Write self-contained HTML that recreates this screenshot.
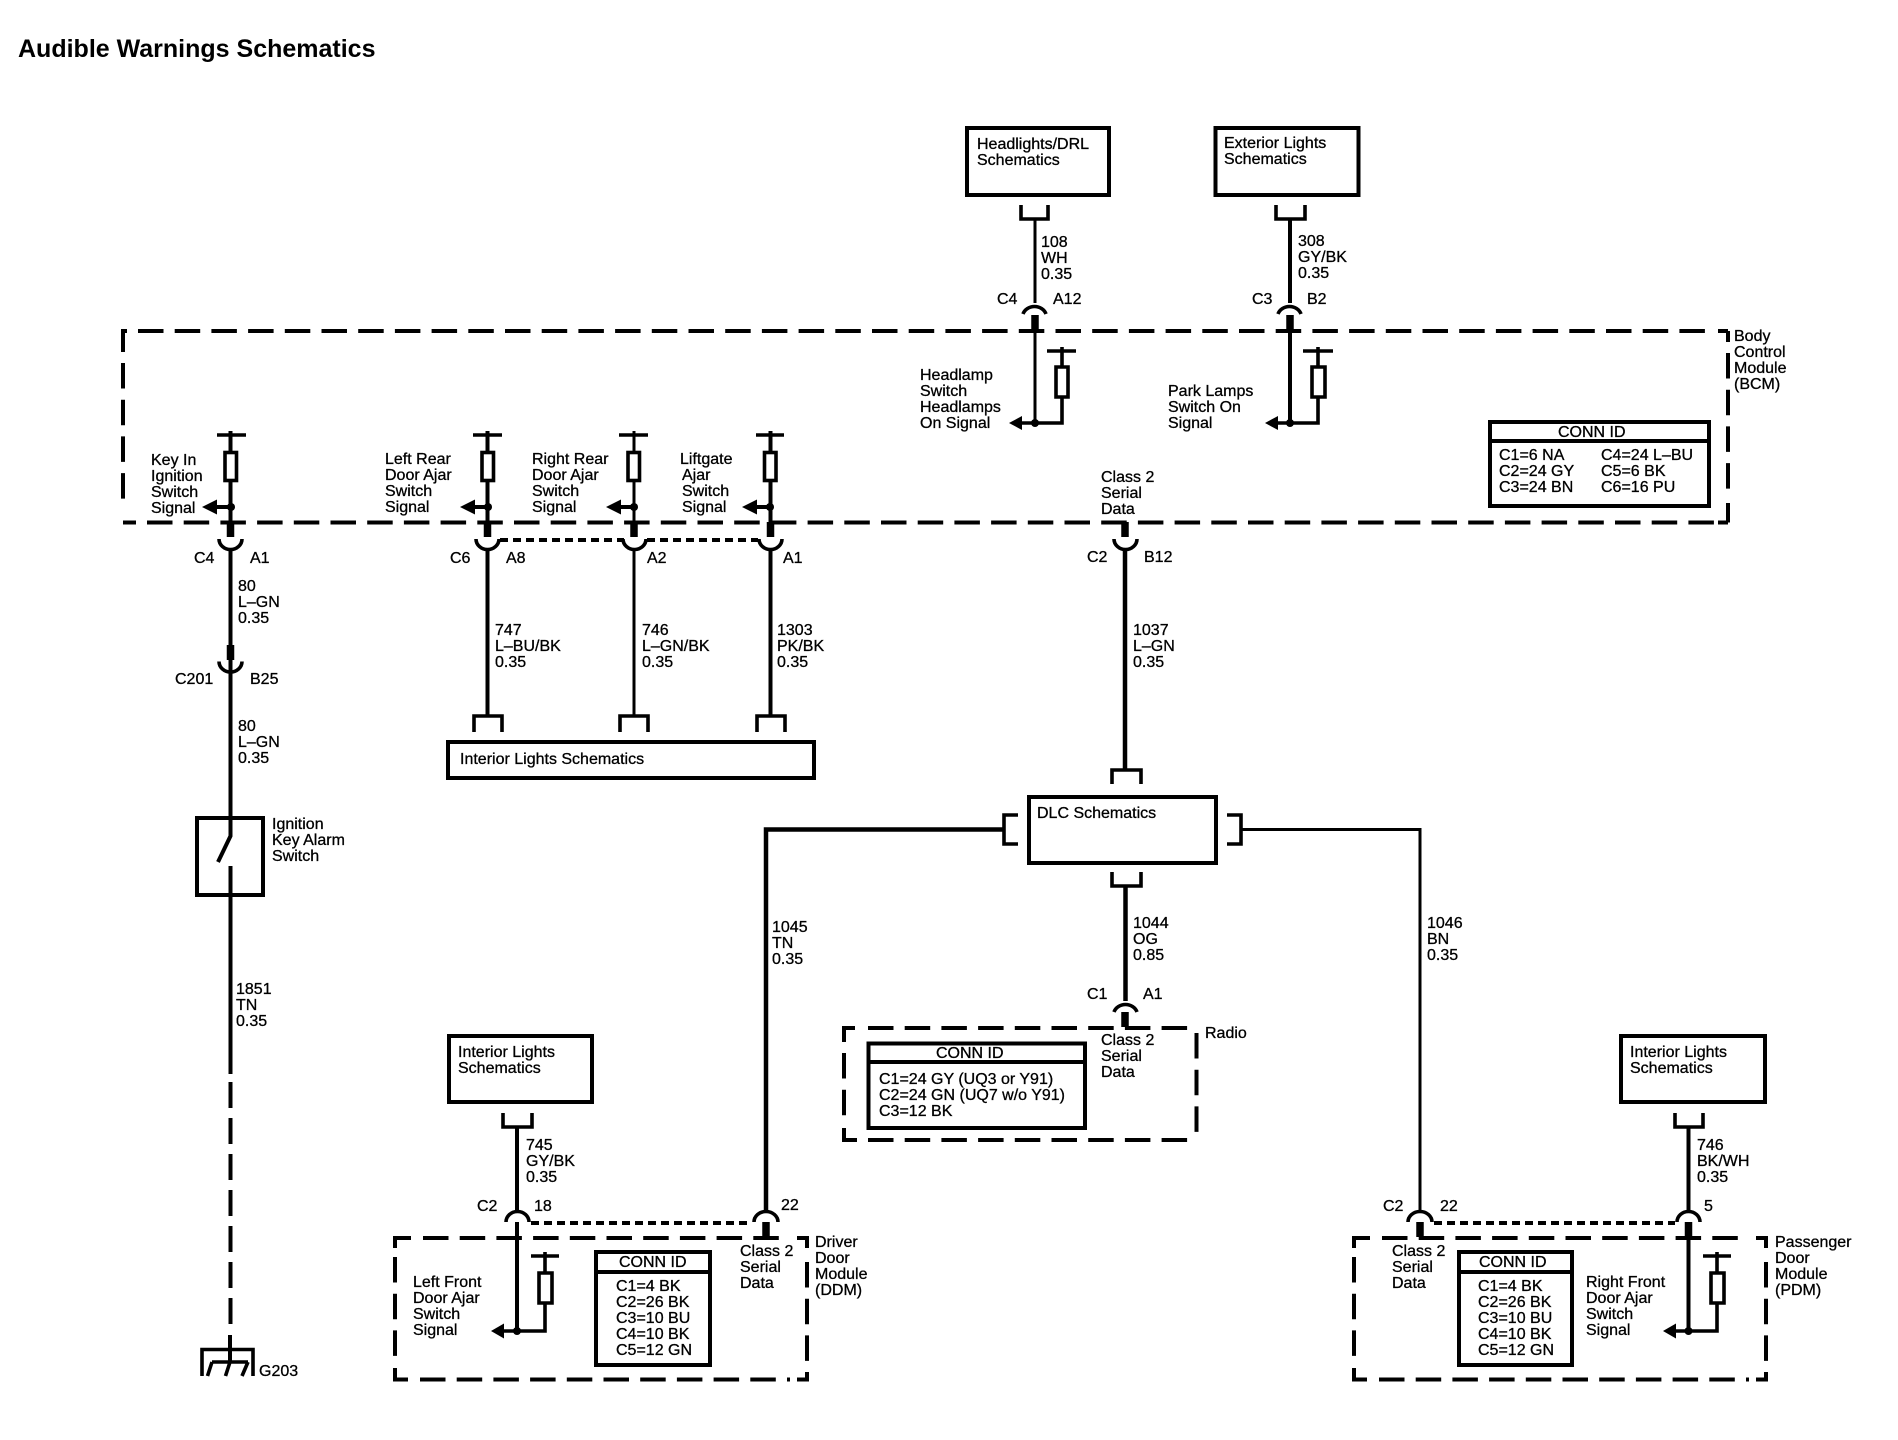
<!DOCTYPE html>
<html>
<head>
<meta charset="utf-8">
<title>Audible Warnings Schematics</title>
<style>
html,body{margin:0;padding:0;background:#fff}
svg{display:block}
text{font-family:"Liberation Sans",Arial,sans-serif;font-size:16px;fill:#000;stroke:#000;stroke-width:.3px}
.t{font-size:25px;font-weight:bold;stroke:none}
.w,.b,.d,.f,.s,.th,.thin,.k{fill:none;stroke:#000}
.w{stroke-width:4}
.th{stroke-width:4.500}
.thin{stroke-width:3}
.b{stroke-width:4}
.s{stroke-width:7.500}
.d{stroke-width:4;stroke-dasharray:25.500 11.200}
.k{stroke-width:4}
.f{stroke-width:3.600}
.r{stroke-width:3.600;stroke:#000;fill:#fff}
.dot{stroke-width:4;stroke-dasharray:8 5;fill:none;stroke:#000}
</style>
</head>
<body>
<svg width="1898" height="1440" viewBox="0 0 1898 1440" xmlns="http://www.w3.org/2000/svg">
<rect width="1898" height="1440" fill="#fff"/>
<text class="t" x="18" y="57">Audible Warnings Schematics</text>

<!-- BCM dashed -->
<path class="k" d="M123 352V331H127M123 522.500H136M1728 331H1718M1728 331V342M1728 522.500V503M1728 522.500H1718"/>
<path class="d" d="M138 331H1715"/>
<path class="d" d="M123 363V500"/>
<path class="d" d="M147 522.500H1715"/>
<path class="d" d="M1728 353V495"/>
<!-- Radio dashed -->
<path class="k" d="M855 1028H844V1042M844 1128V1140H857"/>
<path class="d" d="M868 1028H1190"/>
<path class="d" d="M844 1053V1118"/>
<path class="d" d="M868 1140H1193"/>
<path class="d" d="M1196.500 1033V1133"/>
<!-- DDM dashed -->
<g>
<path class="k" d="M411 1238H395V1248M395 1368V1379.500H408M797 1238H807V1248M797 1379.500H807V1372"/>
<path class="d" d="M423 1238H790"/>
<path class="d" d="M395 1257V1356"/>
<path class="d" d="M420 1379.500H790"/>
<path class="d" d="M807 1262V1361"/>
</g>
<g transform="translate(959 0)">
<path class="k" d="M411 1238H395V1248M395 1368V1379.500H408M797 1238H807V1248M797 1379.500H807V1372"/>
<path class="d" d="M423 1238H790"/>
<path class="d" d="M395 1257V1356"/>
<path class="d" d="M420 1379.500H790"/>
<path class="d" d="M807 1262V1361"/>
</g>

<!-- solid boxes -->
<rect class="b" x="967" y="128" width="142" height="67"/>
<rect class="b" x="1215.500" y="128" width="143" height="67"/>
<rect class="b" x="448" y="742" width="366" height="36"/>
<rect class="b" x="1029" y="797" width="187" height="66"/>
<rect class="b" x="449" y="1036" width="143" height="66"/>
<rect class="b" x="1621" y="1036" width="144" height="66"/>
<rect class="b" x="197" y="818" width="66" height="77"/>

<!-- CONN ID boxes -->
<path class="b" d="M1490 422H1709V506H1490ZM1490 441H1709"/>
<path class="b" d="M868.500 1043.500H1085V1128H868.500ZM868.500 1062H1085"/>
<path class="b" d="M596 1252H710V1365H596ZM596 1272H710"/>
<path class="b" d="M1459 1252H1572V1365H1459ZM1459 1272H1572"/>

<!-- Key in / ignition wire -->
<path class="w" d="M230.500 431V522M230.500 549V836L218 862M230.500 866V1074"/>
<path class="w" style="stroke-dasharray:26 10" d="M230.500 1082V1326"/>
<path class="w" d="M230 1335V1362"/>
<path class="f" d="M217 435H246"/>
<rect class="r" x="225" y="452.500" width="11.500" height="28"/>
<path class="s" d="M230.500 522V537M230.500 645V660"/>
<path class="f" d="M219 539A11.500 10.500 0 0 0 242 539M219 661.500A11.500 10.500 0 0 0 242 661.500"/>
<path class="w" d="M210 507H230"/>
<path d="M202 507L217 499.500V514.500Z"/><circle cx="231" cy="507" r="4"/>

<!-- Ground -->
<path class="f" d="M202 1376V1349.500H253V1376M212 1362H248M212 1362L207.500 1376M230 1362L225.500 1376M248 1362L242 1376"/>

<!-- door ajar wires -->
<path class="w" d="M487.500 431V522M487.500 549V716"/>
<path class="f" d="M473 435H502"/>
<rect class="r" x="482" y="452.500" width="11.500" height="28"/>
<path class="s" d="M487.500 522V537"/>
<path class="f" d="M476 539A11.500 10.500 0 0 0 499 539"/>
<path class="w" d="M468 507H487"/>
<path d="M460 507L475 499.500V514.500Z"/><circle cx="488" cy="507" r="4"/>

<path class="thin" d="M634 431V522M634 549V716"/>
<path class="f" d="M619 435H648"/>
<rect class="r" x="628" y="452.500" width="11.500" height="28"/>
<path class="s" d="M634 522V537"/>
<path class="f" d="M623 539A11.500 10.500 0 0 0 646 539"/>
<path class="w" d="M614 507H634"/>
<path d="M606 507L621 499.500V514.500Z"/><circle cx="634" cy="507" r="4"/>

<path class="w" d="M770.500 431V522M770.500 549V716"/>
<path class="f" d="M756 435H784"/>
<rect class="r" x="764.500" y="452.500" width="11.500" height="28"/>
<path class="s" d="M770.500 522V537"/>
<path class="f" d="M759 539A11.500 10.500 0 0 0 782 539"/>
<path class="w" d="M750 507H770"/>
<path d="M742 507L757 499.500V514.500Z"/><circle cx="770" cy="507" r="4"/>

<path class="dot" d="M500 540H624M647 540H758"/>
<path class="f" d="M474 732V716H502V732M620 732V716H648V732M757 732V716H785V732"/>

<!-- Headlights -->
<path class="f" d="M1021 205V219H1048V205M1276 205V219H1305V205"/>
<path class="thin" d="M1035 219V303M1035 331V422"/>
<path class="s" d="M1035 315V331M1290 315V331"/>
<path class="f" d="M1023 314A12 10.500 0 0 1 1046 314M1278 314A12 10.500 0 0 1 1301 314"/>
<path class="w" d="M1290 219V303M1290 331V422"/>
<path class="f" d="M1047 351H1076M1062 347V367M1056 367H1068V397H1056ZM1062 397V423H1016"/>
<path class="f" d="M1303 351H1333M1318 347V367M1312 367H1325V397H1312ZM1318 397V423H1271"/>
<path d="M1009 423L1022 416V430Z"/><circle cx="1035" cy="423" r="4"/>
<path d="M1265 423L1278 416V430Z"/><circle cx="1290" cy="423" r="4"/>

<!-- Class 2 central -->
<path class="s" d="M1125 522V537M1125 1012V1027M766 1222V1237M1420 1222V1237M1688.500 1222V1237"/>
<path class="f" d="M1114 539A11.500 10.500 0 0 0 1137 539"/>
<path class="th" d="M1125 549V769"/>
<path class="f" d="M1112 784V770H1141V784M1112 872V886H1141V872M1018 815H1004V844H1018M1227 815H1241V844H1227"/>
<path class="th" d="M1125.500 886V1001"/>
<path class="f" d="M1114 1012A12 10.500 0 0 1 1137 1012"/>
<path class="th" d="M1004 829.500H766V1211"/>
<path class="thin" d="M1241 829.500H1420V1211"/>

<path class="f" d="M754 1222A12 10.500 0 0 1 778 1222M1408 1222A12 10.500 0 0 1 1432 1222M506 1222A11.500 10.500 0 0 1 529 1222M1677 1222A11.500 10.500 0 0 1 1700 1222"/>
<path class="dot" d="M531 1223H752M1434 1223H1675"/>

<!-- DDM switch -->
<path class="f" d="M503 1113V1127H532V1113M1675 1113V1127H1703V1113"/>
<path class="w" d="M517 1127V1211M517 1222V1331M1688.500 1127V1211M1688.500 1222V1331"/>
<path class="f" d="M531 1256H559M545 1252V1273M539 1273H552V1303H539ZM545 1303V1331H497"/>
<path d="M491 1331L504 1323.500V1338.500Z"/><circle cx="517" cy="1331" r="4"/>
<path class="f" d="M1703 1256H1731M1717 1252V1273M1711 1273H1724V1303H1711ZM1717 1303V1331H1669"/>
<path d="M1663 1331L1676 1323.500V1338.500Z"/><circle cx="1688.500" cy="1331" r="4"/>

<!-- Text -->
<text x="151" y="465">Key In</text><text x="151" y="481">Ignition</text><text x="151" y="497">Switch</text><text x="151" y="513">Signal</text>
<text x="385" y="464">Left Rear</text><text x="385" y="480">Door Ajar</text><text x="385" y="496">Switch</text><text x="385" y="512">Signal</text>
<text x="532" y="464">Right Rear</text><text x="532" y="480">Door Ajar</text><text x="532" y="496">Switch</text><text x="532" y="512">Signal</text>
<text x="680" y="464">Liftgate</text><text x="682" y="480">Ajar</text><text x="682" y="496">Switch</text><text x="682" y="512">Signal</text>
<text x="920" y="380">Headlamp</text><text x="920" y="396">Switch</text><text x="920" y="412">Headlamps</text><text x="920" y="428">On Signal</text>
<text x="1168" y="396">Park Lamps</text><text x="1168" y="412">Switch On</text><text x="1168" y="428">Signal</text>
<text x="1101" y="482">Class 2</text><text x="1101" y="498">Serial</text><text x="1101" y="514">Data</text>
<text x="1734" y="341">Body</text><text x="1734" y="357">Control</text><text x="1734" y="373">Module</text><text x="1734" y="389">(BCM)</text>

<text x="1558" y="437">CONN ID</text>
<text x="1499" y="460">C1=6 NA</text><text x="1499" y="476">C2=24 GY</text><text x="1499" y="492">C3=24 BN</text>
<text x="1601" y="460">C4=24 L–BU</text><text x="1601" y="476">C5=6 BK</text><text x="1601" y="492">C6=16 PU</text>

<text x="194" y="563">C4</text><text x="250" y="563">A1</text>
<text x="238" y="591">80</text><text x="238" y="607">L–GN</text><text x="238" y="623">0.35</text>
<text x="175" y="684">C201</text><text x="250" y="684">B25</text>
<text x="238" y="731">80</text><text x="238" y="747">L–GN</text><text x="238" y="763">0.35</text>
<text x="272" y="829">Ignition</text><text x="272" y="845">Key Alarm</text><text x="272" y="861">Switch</text>
<text x="236" y="994">1851</text><text x="236" y="1010">TN</text><text x="236" y="1026">0.35</text>
<text x="259" y="1376">G203</text>

<text x="450" y="563">C6</text><text x="506" y="563">A8</text>
<text x="495" y="635">747</text><text x="495" y="651">L–BU/BK</text><text x="495" y="667">0.35</text>
<text x="647" y="563">A2</text>
<text x="642" y="635">746</text><text x="642" y="651">L–GN/BK</text><text x="642" y="667">0.35</text>
<text x="783" y="563">A1</text>
<text x="777" y="635">1303</text><text x="777" y="651">PK/BK</text><text x="777" y="667">0.35</text>
<text x="460" y="764">Interior Lights Schematics</text>

<text x="977" y="149">Headlights/DRL</text><text x="977" y="165">Schematics</text>
<text x="1224" y="148">Exterior Lights</text><text x="1224" y="164">Schematics</text>
<text x="1041" y="247">108</text><text x="1041" y="263">WH</text><text x="1041" y="279">0.35</text>
<text x="1298" y="246">308</text><text x="1298" y="262">GY/BK</text><text x="1298" y="278">0.35</text>
<text x="997" y="304">C4</text><text x="1053" y="304">A12</text>
<text x="1252" y="304">C3</text><text x="1307" y="304">B2</text>

<text x="1087" y="562">C2</text><text x="1144" y="562">B12</text>
<text x="1133" y="635">1037</text><text x="1133" y="651">L–GN</text><text x="1133" y="667">0.35</text>
<text x="1037" y="818">DLC Schematics</text>
<text x="1133" y="928">1044</text><text x="1133" y="944">OG</text><text x="1133" y="960">0.85</text>
<text x="1087" y="999">C1</text><text x="1143" y="999">A1</text>
<text x="1101" y="1045">Class 2</text><text x="1101" y="1061">Serial</text><text x="1101" y="1077">Data</text>
<text x="1205" y="1038">Radio</text>

<text x="936" y="1058">CONN ID</text>
<text x="879" y="1084">C1=24 GY (UQ3 or Y91)</text><text x="879" y="1100">C2=24 GN (UQ7 w/o Y91)</text><text x="879" y="1116">C3=12 BK</text>

<text x="772" y="932">1045</text><text x="772" y="948">TN</text><text x="772" y="964">0.35</text>
<text x="1427" y="928">1046</text><text x="1427" y="944">BN</text><text x="1427" y="960">0.35</text>

<text x="458" y="1057">Interior Lights</text><text x="458" y="1073">Schematics</text>
<text x="1630" y="1057">Interior Lights</text><text x="1630" y="1073">Schematics</text>

<text x="526" y="1150">745</text><text x="526" y="1166">GY/BK</text><text x="526" y="1182">0.35</text>
<text x="1697" y="1150">746</text><text x="1697" y="1166">BK/WH</text><text x="1697" y="1182">0.35</text>

<text x="477" y="1211">C2</text><text x="534" y="1211">18</text><text x="781" y="1210">22</text>
<text x="1383" y="1211">C2</text><text x="1440" y="1211">22</text><text x="1704" y="1211">5</text>

<text x="413" y="1287">Left Front</text><text x="413" y="1303">Door Ajar</text><text x="413" y="1319">Switch</text><text x="413" y="1335">Signal</text>
<text x="1586" y="1287">Right Front</text><text x="1586" y="1303">Door Ajar</text><text x="1586" y="1319">Switch</text><text x="1586" y="1335">Signal</text>

<text x="740" y="1256">Class 2</text><text x="740" y="1272">Serial</text><text x="740" y="1288">Data</text>
<text x="1392" y="1256">Class 2</text><text x="1392" y="1272">Serial</text><text x="1392" y="1288">Data</text>

<text x="815" y="1247">Driver</text><text x="815" y="1263">Door</text><text x="815" y="1279">Module</text><text x="815" y="1295">(DDM)</text>
<text x="1775" y="1247">Passenger</text><text x="1775" y="1263">Door</text><text x="1775" y="1279">Module</text><text x="1775" y="1295">(PDM)</text>

<text x="619" y="1267">CONN ID</text>
<text x="616" y="1291">C1=4 BK</text><text x="616" y="1307">C2=26 BK</text><text x="616" y="1323">C3=10 BU</text><text x="616" y="1339">C4=10 BK</text><text x="616" y="1355">C5=12 GN</text>
<text x="1479" y="1267">CONN ID</text>
<text x="1478" y="1291">C1=4 BK</text><text x="1478" y="1307">C2=26 BK</text><text x="1478" y="1323">C3=10 BU</text><text x="1478" y="1339">C4=10 BK</text><text x="1478" y="1355">C5=12 GN</text>
</svg>
</body>
</html>
